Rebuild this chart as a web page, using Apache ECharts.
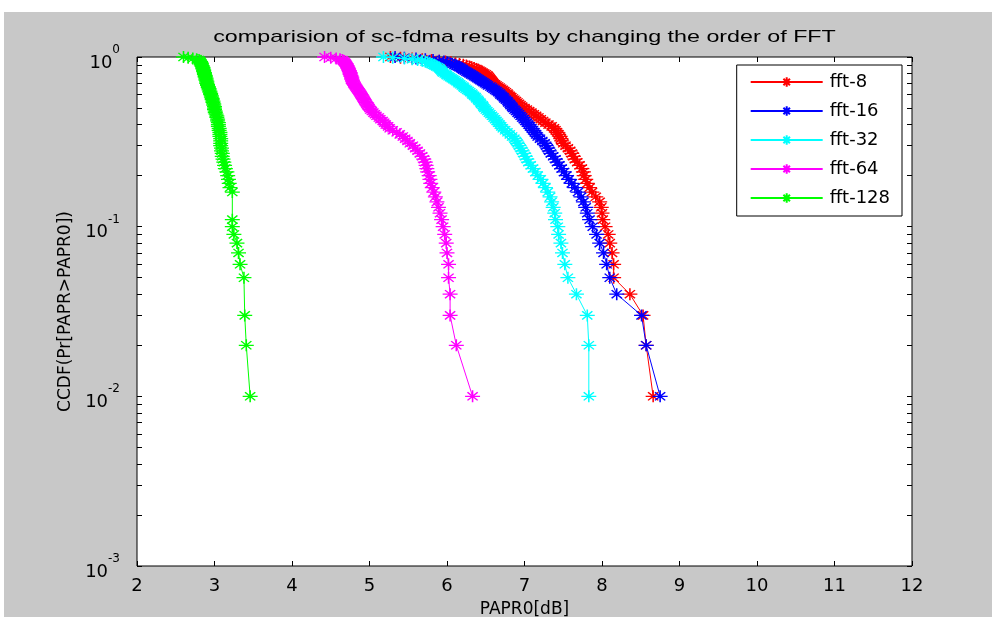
<!DOCTYPE html>
<html>
<head>
<meta charset="utf-8">
<script src="https://cdn.jsdelivr.net/npm/echarts@6/dist/echarts.min.js"></script>
<style>
  html, body { margin: 0; padding: 0; background: #fff; }
  #chart { position: absolute; left: 4px; top: 12px; width: 988px; height: 605px; }
</style>
</head>
<body>
<div id="chart"></div>
<script>
// CCDF levels (y) shared by all curves, from 1 down to 0.01
var probLevels = [
  1.00, 0.99, 0.98, 0.97, 0.96, 0.95, 0.94, 0.93, 0.92, 0.91,
  0.90, 0.89, 0.88, 0.87, 0.86, 0.85, 0.84, 0.83, 0.82, 0.81,
  0.80, 0.79, 0.78, 0.77, 0.76, 0.75, 0.74, 0.73, 0.72, 0.71,
  0.70, 0.69, 0.68, 0.67, 0.66, 0.65, 0.64, 0.63, 0.62, 0.61,
  0.60, 0.59, 0.58, 0.57, 0.56, 0.55, 0.54, 0.53, 0.52, 0.51,
  0.50, 0.49, 0.48, 0.47, 0.46, 0.45, 0.44, 0.43, 0.42, 0.41,
  0.40, 0.39, 0.38, 0.37, 0.36, 0.35, 0.34, 0.33, 0.32, 0.31,
  0.30, 0.29, 0.28, 0.27, 0.26, 0.25, 0.24, 0.23, 0.22, 0.21,
  0.20, 0.19, 0.18, 0.17, 0.16, 0.15, 0.14, 0.13, 0.12, 0.11,
  0.10, 0.09, 0.08, 0.07, 0.06, 0.05, 0.04, 0.03, 0.02, 0.01
];

// PAPR0 [dB] for each level (null = no point at that level)
var fft8 = [
  5.27, 5.40, 5.55, 5.68, 5.80, 5.90, 5.98, 6.05, 6.11, 6.16,
  6.21, 6.25, 6.29, 6.32, 6.35, 6.38, 6.40, 6.42, 6.44, 6.46,
  6.48, 6.50, 6.52, 6.53, 6.54, 6.55, 6.56, 6.57, 6.58, 6.59,
  6.60, 6.62, 6.64, 6.66, 6.68, 6.70, 6.72, 6.74, 6.76, 6.78,
  6.79, 6.81, 6.83, 6.85, 6.87, 6.89, 6.91, 6.93, 6.95, 6.97,
  7.00, 7.03, 7.06, 7.09, 7.12, 7.15, 7.18, 7.21, 7.24, 7.27,
  7.31, 7.35, 7.38, 7.40, 7.42, 7.44, 7.46, 7.47, 7.48, 7.50,
  7.53, 7.56, 7.59, 7.61, 7.63, 7.65, 7.68, 7.71, 7.74, 7.76,
  7.77, 7.79, 7.81, 7.84, 7.87, 7.92, 7.97, 7.99, 8.00, 8.01,
  8.04, 8.08, 8.10, 8.13, 8.15, 8.15, 8.36, 8.53, 8.57, 8.66
];
var fft16 = [
  5.33, 5.45, 5.60, 5.72, 5.82, 5.90, 5.96, 6.00, 6.04, 6.07,
  6.10, 6.12, 6.14, 6.16, 6.18, 6.20, 6.21, 6.23, 6.25, 6.27,
  6.29, 6.31, 6.33, 6.35, 6.37, 6.39, 6.41, 6.43, 6.45, 6.47,
  6.49, 6.51, 6.53, 6.56, 6.58, 6.60, 6.62, 6.64, 6.66, 6.68,
  6.69, 6.71, 6.73, 6.74, 6.76, 6.78, 6.79, 6.81, 6.82, 6.84,
  6.85, 6.87, 6.89, 6.91, 6.93, 6.95, 6.97, 6.99, 7.01, 7.03,
  7.05, 7.07, 7.09, 7.11, 7.13, 7.15, 7.17, 7.20, 7.23, 7.26,
  7.28, 7.30, 7.32, 7.34, 7.37, 7.40, 7.42, 7.45, 7.48, 7.51,
  7.54, 7.57, 7.61, 7.65, 7.69, 7.73, 7.76, 7.79, 7.81, 7.84,
  7.88, 7.93, 7.97, 8.02, 8.06, 8.10, 8.19, 8.51, 8.57, 8.75
];
var fft32 = [
  5.18, 5.30, 5.45, 5.55, 5.62, 5.68, 5.72, 5.75, 5.78, 5.80,
  5.82, 5.84, 5.86, 5.88, 5.90, 5.91, 5.92, 5.93, 5.94, 5.95,
  5.97, 5.99, 6.00, 6.02, 6.04, 6.06, 6.08, 6.10, 6.12, 6.14,
  6.15, 6.17, 6.19, 6.21, 6.22, 6.24, 6.26, 6.28, 6.30, 6.32,
  6.33, 6.35, 6.37, 6.38, 6.40, 6.41, 6.43, 6.44, 6.46, 6.47,
  6.48, 6.50, 6.52, 6.54, 6.56, 6.58, 6.60, 6.62, 6.64, 6.66,
  6.68, 6.70, 6.72, 6.75, 6.78, 6.81, 6.84, 6.87, 6.89, 6.91,
  6.93, 6.95, 6.97, 6.99, 7.01, 7.03, 7.05, 7.08, 7.11, 7.14,
  7.17, 7.21, 7.24, 7.27, 7.30, 7.33, 7.35, 7.37, 7.39, 7.40,
  7.43, 7.44, 7.47, 7.49, 7.52, 7.56, 7.67, 7.81, 7.83, 7.83
];
var fft64 = [
  4.42, 4.50, 4.57, 4.62, 4.65, 4.66, 4.67, 4.68, 4.69, 4.70,
  4.70, 4.71, 4.71, 4.72, 4.72, 4.73, 4.73, 4.74, 4.74, 4.75,
  4.75, 4.75, 4.76, 4.76, 4.77, 4.77, 4.77, 4.78, 4.78, 4.79,
  4.79, 4.80, 4.81, 4.82, 4.83, 4.84, 4.85, 4.86, 4.87, 4.88,
  4.89, 4.90, 4.91, 4.92, 4.93, 4.94, 4.95, 4.96, 4.97, 4.99,
  5.00, 5.01, 5.03, 5.05, 5.07, 5.09, 5.12, 5.14, 5.17, 5.19,
  5.21, 5.24, 5.26, 5.30, 5.35, 5.39, 5.43, 5.46, 5.49, 5.52,
  5.56, 5.59, 5.62, 5.65, 5.68, 5.70, 5.72, 5.73, 5.74, 5.75,
  5.77, 5.78, 5.79, 5.81, 5.83, 5.85, 5.87, 5.89, 5.91, 5.93,
  5.95, 5.97, 5.99, 6.00, 6.02, 6.02, 6.04, 6.04, 6.12, 6.33
];
var fft128 = [
  2.60, 2.66, 2.72, 2.77, 2.80, 2.81, 2.82, 2.82, 2.83, 2.83,
  2.83, 2.84, 2.84, 2.85, 2.85, 2.85, 2.86, 2.86, 2.86, 2.87,
  2.87, 2.87, 2.88, 2.88, 2.88, 2.89, 2.89, 2.89, 2.90, 2.90,
  2.90, 2.91, 2.91, 2.92, 2.92, 2.93, 2.93, 2.94, 2.94, 2.95,
  2.95, 2.96, 2.96, 2.97, 2.97, 2.98, 2.98, 2.99, 2.99, 3.00,
  3.00, 3.00, 3.01, 3.01, 3.02, 3.03, 3.03, 3.04, 3.04, 3.05,
  3.05, 3.05, 3.06, 3.06, 3.07, 3.07, 3.07, 3.08, 3.08, 3.08,
  3.08, 3.09, 3.09, 3.10, 3.10, 3.11, 3.12, 3.13, 3.14, 3.16,
  3.17, 3.18, 3.19, 3.20, 3.23, null, null, null, null, 3.23,
  3.23, 3.25, 3.29, 3.31, 3.33, 3.38, null, 3.39, 3.41, 3.46
];

var seriesNames = ['fft-8', 'fft-16', 'fft-32', 'fft-64', 'fft-128'];
var seriesColors = ['#ff0000', '#0000ff', '#00ffff', '#ff00ff', '#00ff00'];
var seriesX = [fft8, fft16, fft32, fft64, fft128];

var xTicks = [2, 3, 4, 5, 6, 7, 8, 9, 10, 11, 12];
var yTicks = [
  0.001, 0.002, 0.003, 0.004, 0.005, 0.006, 0.007, 0.008, 0.009,
  0.01, 0.02, 0.03, 0.04, 0.05, 0.06, 0.07, 0.08, 0.09,
  0.1, 0.2, 0.3, 0.4, 0.5, 0.6, 0.7, 0.8, 0.9, 1
];

var titleText = 'comparision of sc-fdma results by changing the order of FFT';
var xName = 'PAPR0[dB]';
var yName = 'CCDF(Pr[PAPR>PAPR0])';

// matlab '*' marker
var starPath = 'path://M0,5L10,5M5,0L5,10M1.6,1.6L8.4,8.4M8.4,1.6L1.6,8.4';
var font = 'DejaVu Sans';

function pairs(xs) {
  var out = [];
  for (var i = 0; i < xs.length; i++) {
    if (xs[i] === null) continue;
    out.push([xs[i], probLevels[i]]);
  }
  return out;
}

var chart = echarts.init(document.getElementById('chart'));

var series = seriesNames.map(function (name, i) {
  return {
    name: name,
    type: 'line',
    data: pairs(seriesX[i]),
    symbol: starPath,
    symbolSize: [15, 12],
    showSymbol: true,
    showAllSymbol: true,
    lineStyle: { color: seriesColors[i], width: 1 },
    itemStyle: { color: seriesColors[i], borderColor: seriesColors[i], borderWidth: 1.4 },
    emphasis: { disabled: true }
  };
});

var tickStyle = { inside: true, length: 5, lineStyle: { color: '#000', width: 1 } };

var option = {
  backgroundColor: '#c8c8c8',
  animation: false,
  grid: {
    left: 133, top: 45, width: 775, height: 509,
    outerBoundsMode: 'none',
    containLabel: false,
    show: true, backgroundColor: '#fff', borderColor: '#000', borderWidth: 1
  },
  graphic: [{
    type: 'text',
    x: 520.5, y: 25,
    scaleX: 1.37,
    style: {
      text: titleText, fill: '#000',
      font: '17px "Liberation Sans"',
      textAlign: 'center', textVerticalAlign: 'middle'
    }
  }],
  legend: {
    orient: 'vertical',
    right: 90, top: 53,
    padding: [8, 12, 9, 13],
    itemWidth: 72, itemHeight: 12, itemGap: 11,
    backgroundColor: '#fff', borderColor: '#000', borderWidth: 1,
    textStyle: { fontFamily: font, fontSize: 18, color: '#000', padding: [0, 0, 0, 2] },
    data: seriesNames
  },
  xAxis: [{
    type: 'value', min: 2, max: 12, interval: 1,
    name: xName, nameLocation: 'middle', nameGap: 35,
    nameTextStyle: { fontFamily: font, fontSize: 17, color: '#000' },
    axisLine: { show: false },
    axisTick: Object.assign({ customValues: xTicks }, tickStyle),
    axisLabel: { fontFamily: font, fontSize: 18, color: '#000', margin: 11 },
    splitLine: { show: false }
  }, {
    type: 'value', min: 2, max: 12, interval: 1, position: 'top',
    axisLine: { show: false },
    axisTick: Object.assign({ customValues: xTicks }, tickStyle),
    axisLabel: { show: false },
    splitLine: { show: false }
  }],
  yAxis: [{
    type: 'log', logBase: 10, min: 0.001, max: 1,
    name: yName, nameLocation: 'middle', nameGap: 63,
    nameTextStyle: { fontFamily: font, fontSize: 17, color: '#000' },
    axisLine: { show: false },
    axisTick: Object.assign({ customValues: yTicks }, tickStyle),
    axisLabel: {
      margin: 17,
      formatter: function (v) {
        return '{b|10}{s|' + Math.round(Math.log10(v)) + '}';
      },
      rich: {
        b: { fontFamily: font, fontSize: 18, color: '#000', padding: [12, 0, 0, 0] },
        s: { fontFamily: font, fontSize: 12, color: '#000', padding: [0, 0, 14, 0] }
      }
    },
    splitLine: { show: false }
  }, {
    type: 'log', logBase: 10, min: 0.001, max: 1, position: 'right',
    axisLine: { show: false },
    axisTick: Object.assign({ customValues: yTicks }, tickStyle),
    axisLabel: { show: false },
    splitLine: { show: false }
  }],
  series: series
};

chart.setOption(option);
</script>
</body>
</html>
